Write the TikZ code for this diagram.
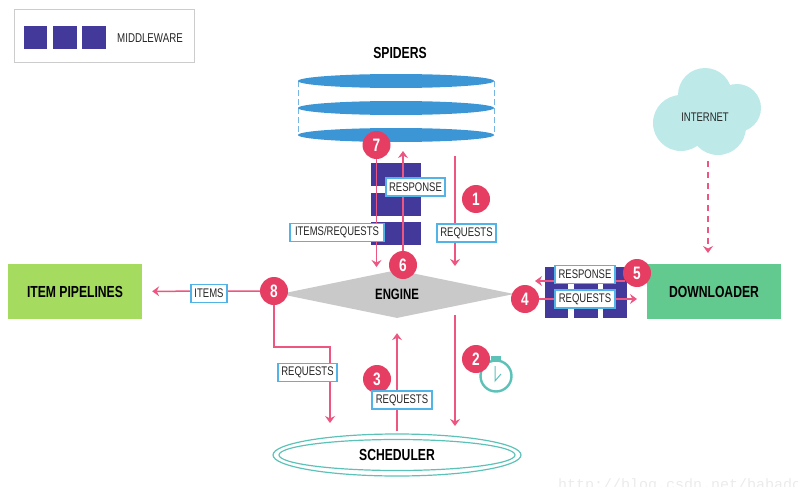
\documentclass[tikz,border=0pt]{standalone}
\usepackage{fontspec}
\setmainfont[FakeStretch=0.76]{Liberation Sans}
\newfontfamily\markfont{Liberation Mono}
\usetikzlibrary{arrows, arrows.meta, shapes, shapes.geometric, positioning}

\definecolor{pinkdot}{HTML}{E63E62}
\definecolor{pinkline}{HTML}{EC5680}
\definecolor{midblue}{HTML}{43399A}
\definecolor{spiderblue}{HTML}{3C96D6}
\definecolor{tagblue}{HTML}{52B4E6}
\definecolor{tealline}{HTML}{5CC2B8}
\definecolor{cloudfill}{HTML}{BDE9E9}
\definecolor{pipegreen}{HTML}{A5DB5F}
\definecolor{loadgreen}{HTML}{62C98F}

\begin{document}
\begin{tikzpicture}[x=1pt, y=-1pt,
		  % Define the style of the numbered dots
		  stepdot/.style={circle, fill=pinkdot, text=white, inner sep=0pt, minimum size=28pt, font=\fontsize{18}{18}\selectfont\bfseries},
		  % Define the style of the arrows
		  arrow/.style={-{Stealth[length=7pt, width=10pt, inset=2.5pt]}, draw=pinkline, line width=1.5pt},
		  % Define the style of the tags on the arrows
		  tag/.style={rectangle, draw=tagblue, line width=1.2pt, fill=white, text=black!85, inner sep=0pt, minimum height=18pt, font=\fontsize{12.5}{13}\selectfont},
		  % Define the style of the big boxes
		  bigbox/.style={rectangle, minimum width=134pt, minimum height=55pt, inner sep=0pt, font=\fontsize{16}{16}\selectfont\bfseries},
		  % Define the style of the middleware blocks
		  midblock/.style={fill=midblue},
		  % Define the style of the spider discs
		  spiderdisc/.style={fill=spiderblue}
		  ]
		  \useasboundingbox (0,0) rectangle (798,487);

		  % Legend
		  \node[draw=black!20, line width=1pt, minimum width=180pt, minimum height=53pt, inner sep=0pt] (legend) at (104,36.5) {};
		  \foreach \x in {23.5, 53, 82} {
		    \fill[midblock] (\x,26) rectangle ++(23.5,23.5);
		  }
		  \node[font=\fontsize{12.8}{13}\selectfont, text=black!85] (legendlabel) at (150,38) {MIDDLEWARE};

		  % Spiders
		  \node[font=\fontsize{16}{16}\selectfont\bfseries] (spiders) at (400,53) {SPIDERS};
		  \draw[spiderblue!70, dash pattern=on 6pt off 3pt, line width=1pt] (298,81) -- (298,135) (494,81) -- (494,135);
		  \foreach \y in {81, 108, 135} {
		    \fill[spiderdisc] (396,\y) ellipse (98 and 7);
		  }

		  % Engine and the boxes
		  \node[diamond, fill=black!21, aspect=4.85, minimum width=234pt, minimum height=48pt, inner sep=0pt, font=\fontsize{15}{15}\selectfont\bfseries] (engine) at (397,294) {ENGINE};
		  \node[bigbox, fill=pipegreen] (pipelines) at (75,291.5) {ITEM PIPELINES};
		  \node[bigbox, fill=loadgreen] (downloader) at (714,291.5) {DOWNLOADER};

		  % Scheduler
		  \node[ellipse, draw=tealline, line width=1.2pt, minimum width=248pt, minimum height=42pt, inner sep=0pt] (schedulerouter) at (397,455) {};
		  \node[ellipse, draw=tealline, line width=1.2pt, minimum width=236pt, minimum height=31pt, inner sep=0pt, font=\fontsize{16}{16}\selectfont\bfseries] (scheduler) at (397,455) {SCHEDULER};

		  % Internet cloud
		  \foreach \x/\y/\r in {681/123/28, 705/95/27, 737/108/24, 718/127/28, 705/115/25} {
		    \fill[cloudfill] (\x,\y) circle (\r);
		  }
		  \node[font=\fontsize{12.5}{13}\selectfont, text=black!85] (internet) at (705,117) {INTERNET};

		  % Middleware blocks
		  \foreach \y/\h in {163/23, 193/23, 222/23} {
		    \fill[midblock] (371,\y) rectangle ++(50,\h);
		  }
		  \foreach \x/\w in {545/23, 574/24, 603/24} {
		    \fill[midblock] (\x,267) rectangle ++(\w,51);
		  }

		  % Timer
		  \fill[tealline] (491,356) rectangle (501,362);
		  \node[circle, draw=tealline, line width=2.4pt, minimum size=31pt, inner sep=0pt] (timer) at (496,376) {};
		  \draw[tealline, line width=1pt] (495,366) -- (495,381) -- (501,374);

		  % Numbered dots
		  \foreach \name/\x/\y/\num in {one/476/199/1, two/476/359/2, three/377/379/3, four/525/299/4, five/637/273/5, six/403/265/6, seven/376.5/145/7, eight/274/291/8} {
		    \node[stepdot] (\name) at (\x,\y) {\num};
		  }

		  % Free ends of the arrows
		  \coordinate (oneup) at (455,156);
		  \coordinate (onedown) at (455,266);
		  \coordinate (twoup) at (455,315);
		  \coordinate (twodown) at (455,426);
		  \coordinate (fourend) at (637,299);
		  \coordinate (fiveend) at (535,281);
		  \coordinate (fivestart) at (625,281);
		  \coordinate (sixend) at (403,151);
		  \coordinate (sevenend) at (376.5,267);
		  \coordinate (netup) at (708,161);
		  \coordinate (netdown) at (708,253);
		  \coordinate (eightcorner) at (274,347);
		  \coordinate (eightturn) at (330,347);
		  \coordinate (eightend) at (330,423);

		  % Connect the nodes
		  \draw[arrow] (oneup) -- (onedown);
		  \draw[arrow] (twoup) -- (twodown);
		  \draw[arrow, shorten <=8pt, shorten >=15pt] (scheduler) -- (engine);
		  \draw[arrow] (four) -- (fourend);
		  \draw[arrow] (fivestart) -- (fiveend);
		  \draw[arrow] (six) -- (sixend);
		  \draw[arrow] (seven) -- (sevenend);
		  \draw[arrow, dash pattern=on 6pt off 5pt] (netup) -- (netdown);
		  \draw[arrow, shorten >=10pt] (eight) -- (pipelines);
		  \draw[arrow] (eight) -- (eightcorner) -- (eightturn) -- (eightend);

		  % Tags on the arrows
		  \node[tag, minimum width=59pt] (tagone) at (466.5,233) {REQUESTS};
		  \node[tag, minimum width=59pt] (tagresponse) at (415.5,187) {RESPONSE};
		  \node[tag, minimum width=94pt] (tagitems) at (337,232.5) {ITEMS/REQUESTS};
		  \node[tag, minimum width=36pt] (tagpipe) at (209,293.5) {ITEMS};
		  \node[tag, minimum width=59pt] (tageight) at (307.5,372.5) {REQUESTS};
		  \node[tag, minimum width=60pt] (tagthree) at (402,400) {REQUESTS};
		  \node[tag, minimum width=60pt] (tagfive) at (585,274.5) {RESPONSE};
		  \node[tag, minimum width=60pt] (tagfour) at (585,299) {REQUESTS};

		  % Mark in the corner
		  \node[anchor=base west, inner sep=0pt, text=black!8, font=\markfont\fontsize{15}{15}\selectfont] (webmark) at (558,489) {http://blog.csdn.net/babado};
\end{tikzpicture}
\end{document}
